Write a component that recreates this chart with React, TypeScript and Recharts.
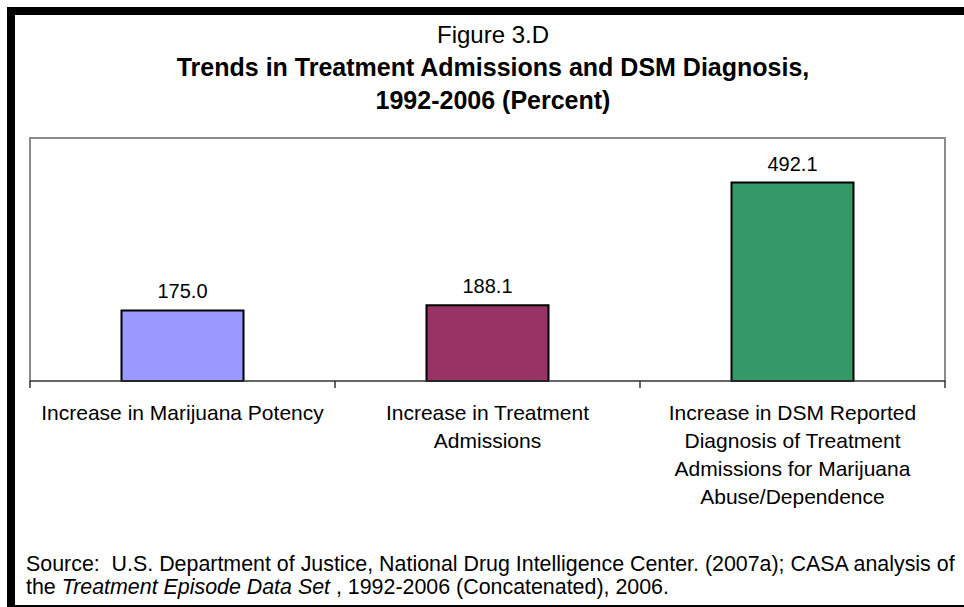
import React from 'react';
import { BarChart, Bar, XAxis, YAxis, Cell, LabelList } from 'recharts';

const categories = [
  'Increase in Marijuana Potency',
  'Increase in Treatment\nAdmissions',
  'Increase in DSM Reported\nDiagnosis of Treatment\nAdmissions for Marijuana\nAbuse/Dependence',
];
const values = [175.0, 188.1, 492.1];
const barColors = ['#9999FF', '#993366', '#339966'];
const boundaryTicks = [0, 0.5, 1, 1.5, 2, 2.5, 3];

// bars sit in the middle of each unit slot on a numeric axis
const data = categories.map((name, i) => ({ name, x: i + 0.5, value: values[i] }));

const FONT = 'Arial, "Liberation Sans", sans-serif';

const BoundaryTick = (props: any) => {
  const { x, y, payload } = props;
  const v = payload.value as number;
  if (Number.isInteger(v)) {
    return <line x1={x} y1={y} x2={x} y2={y + 7} stroke="#333" strokeWidth={1.5} />;
  }
  const lines = categories[Math.floor(v)].split('\n');
  return (
    <g>
      {lines.map((l, i) => (
        <text
          key={i}
          x={x}
          y={y + 31 + i * 28}
          textAnchor="middle"
          dominantBaseline="central"
          fontSize={21}
          fontFamily={FONT}
          fill="#000"
        >
          {l}
        </text>
      ))}
    </g>
  );
};

export default function App() {
  return (
    <div style={{ position: 'absolute', left: 0, top: 0, width: 964, height: 607, fontFamily: FONT, background: '#fff', overflow: 'hidden' }}>
      {/* outer black frame */}
      <div
        style={{
          position: 'absolute', left: 7, top: 7, width: 957, height: 600, boxSizing: 'border-box',
          borderLeft: '8px solid #000', borderTop: '8px solid #000', borderBottom: '2px solid #000',
        }}
      />
      <div style={{ position: 'absolute', left: 15, top: 18, width: 956, textAlign: 'center', color: '#000' }}>
        <div style={{ fontSize: 24, lineHeight: '33px' }}>Figure 3.D</div>
        <div style={{ fontSize: 25, lineHeight: '33px', fontWeight: 'bold' }}>Trends in Treatment Admissions and DSM Diagnosis,</div>
        <div style={{ fontSize: 25, lineHeight: '33px', fontWeight: 'bold' }}>1992-2006 (Percent)</div>
      </div>
      {/* plot frame */}
      <div
        style={{
          position: 'absolute', left: 29, top: 137, width: 917, height: 245, boxSizing: 'border-box',
          borderLeft: '2px solid #8c8c8c', borderTop: '2px solid #8c8c8c', borderRight: '2px solid #8c8c8c',
        }}
      />
      <div style={{ position: 'absolute', left: 0, top: 0 }}>
        <BarChart
          width={964}
          height={607}
          data={data}
          margin={{ top: 139, right: 19, bottom: 196, left: 30 }}
          barCategoryGap="30%"
        >
          <XAxis
            dataKey="x"
            type="number"
            domain={[0, 3]}
            ticks={boundaryTicks}
            interval={0}
            height={30}
            tickSize={0}
            tickMargin={0}
            tickLine={false}
            axisLine={{ stroke: '#333', strokeWidth: 1.5 }}
            tick={<BoundaryTick />}
            allowDataOverflow
          />
          <YAxis domain={[0, 600]} hide />
          <Bar dataKey="value" stroke="#000" strokeWidth={2} isAnimationActive={false}>
            {data.map((d, i) => (
              <Cell key={d.name} fill={barColors[i]} />
            ))}
            <LabelList
              dataKey="value"
              position="top"
              offset={12}
              fontSize={20}
              fontFamily={FONT}
              fill="#000"
              formatter={(v: any) => Number(v).toFixed(1)}
            />
          </Bar>
        </BarChart>
      </div>
      <div style={{ position: 'absolute', left: 26, top: 553, fontSize: 21.4, lineHeight: '23px', color: '#000', whiteSpace: 'nowrap' }}>
        <div>Source:&nbsp; U.S. Department of Justice, National Drug Intelligence Center. (2007a); CASA analysis of</div>
        <div>
          the <i>Treatment Episode Data Set</i> , 1992-2006 (Concatenated), 2006.
        </div>
      </div>
    </div>
  );
}
